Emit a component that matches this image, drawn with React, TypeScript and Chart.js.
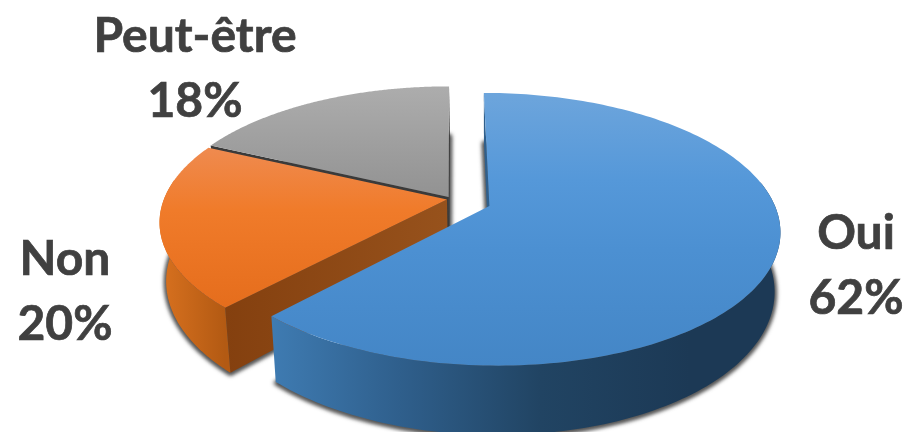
import React, { useEffect, useRef } from "react";
import { Chart, registerables } from "chart.js";

Chart.register(...registerables);

const categories = ["Oui", "Non", "Peut-être"];
const shares = [62, 20, 18];
const sliceOffsets = [26.5, 3, 3.5];

const labelAnchors = [
  [856, 249, 314],
  [65, 275, 340],
  [195, 52, 117],
];

const topStops = [
  [[93, "#6da5dc"], [180, "#5598d9"], [250, "#4c90d2"], [366, "#4486c6"]],
  [[150, "#ef8a4e"], [210, "#f07b2a"], [310, "#e56d1c"]],
  [[85, "#adadad"], [197, "#929292"]],
];
const wallStops = [
  [[268, "#3f7cb3"], [400, "#2f5f8c"], [540, "#214463"], [690, "#1c3955"], [780, "#1c3955"]],
  [[160, "#d8711f"], [225, "#b35a13"]],
  [[160, "#3e3e3e"], [450, "#3e3e3e"]],
];
const faceStops = [
  [[268, "#2f5f8c"], [490, "#2f5f8c"]],
  [[225, "#84400f"], [447, "#97521c"]],
  [[210, "#3a3a3a"], [450, "#3a3a3a"]],
];

const view = { rx: 283, b: 130, k: 0.17, h: 57, vanishX: 489, shrink: 0.02 };

function project(u: number, v: number, z: number) {
  const s = 1 / (1 + view.k * v);
  const x = view.rx * u * s;
  const y = -view.b * v * s + view.h * s * z;
  return { x, y };
}

function gradient(ctx: CanvasRenderingContext2D, stops: any[], horizontal: boolean) {
  const a = stops[0][0];
  const b = stops[stops.length - 1][0];
  const g = horizontal ? ctx.createLinearGradient(a, 0, b, 0) : ctx.createLinearGradient(0, a, 0, b);
  stops.forEach(([p, c]) => g.addColorStop((p - a) / (b - a), c));
  return g;
}

const pie3d = {
  id: "pie3d",
  beforeDatasetDraw(chart: any) {
    const ctx: CanvasRenderingContext2D = chart.ctx;
    const meta = chart.getDatasetMeta(0);
    for (let i = meta.data.length - 1; i >= 0; i--) {
      const el = meta.data[i];
      const { x: cx, y: cy, startAngle, endAngle, outerRadius } = el.getProps(
        ["x", "y", "startAngle", "endAngle", "outerRadius"],
        true
      );
      const mid = (startAngle + endAngle) / 2;
      const d = (el.options.offset || 0) / outerRadius;
      const au = Math.cos(mid) * d;
      const av = -Math.sin(mid) * d;

      const pt = (u: number, v: number, z: number) => {
        const p = project(u, v, z);
        const X = cx + p.x;
        return [view.vanishX + (X - view.vanishX) * (1 - view.shrink * z), cy + p.y];
      };
      const rim: [number, number][] = [];
      const n = 180;
      for (let j = 0; j <= n; j++) {
        const a = startAngle + ((endAngle - startAngle) * j) / n;
        rim.push([au + Math.cos(a), av - Math.sin(a)]);
      }
      const poly = (points: number[][]) => {
        ctx.beginPath();
        points.forEach((p, idx) => (idx ? ctx.lineTo(p[0], p[1]) : ctx.moveTo(p[0], p[1])));
        ctx.closePath();
      };
      const apex = (z: number) => pt(au, av, z);
      const disc = (z: number) => [apex(z), ...rim.map(([u, v]) => pt(u, v, z))];

      // soft shadow under the slice
      ctx.save();
      ctx.filter = "blur(2px)";
      ctx.fillStyle = "rgba(45,45,45,0.85)";
      ctx.strokeStyle = "rgba(45,45,45,0.85)";
      ctx.lineWidth = 4;
      ctx.lineJoin = "round";
      poly(disc(1).map((p) => [p[0], p[1] + 1]));
      ctx.fill();
      ctx.stroke();
      ctx.restore();

      // radial cut faces, only those turned towards the viewer
      ctx.fillStyle = gradient(ctx, faceStops[i], true);
      const a0 = apex(0);
      [rim[0], rim[n]].forEach(([u, v], which) => {
        const e = pt(u, v, 0);
        const ex = e[0] - a0[0];
        const hidden = which === 0 ? ex > 0 : ex > 0 ? false : true;
        if (hidden) return;
        poly([a0, e, pt(u, v, 1), apex(1)]);
        ctx.fill();
      });

      // outer wall, front part only
      const front = rim.filter(([, v]) => v < 0.15);
      if (front.length > 1) {
        ctx.fillStyle = gradient(ctx, wallStops[i], true);
        poly([...front.map(([u, v]) => pt(u, v, 0)), ...front.slice().reverse().map(([u, v]) => pt(u, v, 1))]);
        ctx.fill();
      }

      // top surface
      ctx.fillStyle = gradient(ctx, topStops[i], false);
      poly(disc(0));
      ctx.fill();
    }
    return false;
  },
  afterDatasetsDraw(chart: any) {
    const ctx: CanvasRenderingContext2D = chart.ctx;
    ctx.save();
    ctx.font = 'bold 48px Lato, "Open Sans", sans-serif';
    ctx.fillStyle = "#404040";
    ctx.strokeStyle = "#404040";
    ctx.lineWidth = 0.7;
    ctx.textAlign = "center";
    ctx.textBaseline = "alphabetic";
    categories.forEach((name, i) => {
      const [x, y1, y2] = labelAnchors[i];
      ctx.fillText(name, x, y1);
      ctx.strokeText(name, x, y1);
      ctx.fillText(`${shares[i]}%`, x, y2);
      ctx.strokeText(`${shares[i]}%`, x, y2);
    });
    ctx.restore();
  },
};

export default function App() {
  const ref = useRef<HTMLCanvasElement>(null);
  useEffect(() => {
    const chart = new Chart(ref.current!, {
      type: "pie",
      data: {
        labels: categories,
        datasets: [
          {
            data: shares,
            offset: sliceOffsets,
            backgroundColor: ["#5b9bd5", "#ed7d31", "#a5a5a5"],
            borderWidth: 0,
          },
        ],
      },
      options: {
        responsive: false,
        animation: false,
        devicePixelRatio: 1,
        layout: { padding: { right: 4, bottom: 34 } },
        plugins: { legend: { display: false }, tooltip: { enabled: false } },
      },
      plugins: [pie3d],
    } as any);
    return () => chart.destroy();
  }, []);
  return (
    <div style={{ position: "fixed", left: 0, top: 0, width: 907, height: 432, background: "#fff" }}>
      <canvas ref={ref} width={907} height={432} style={{ display: "block" }} />
    </div>
  );
}
